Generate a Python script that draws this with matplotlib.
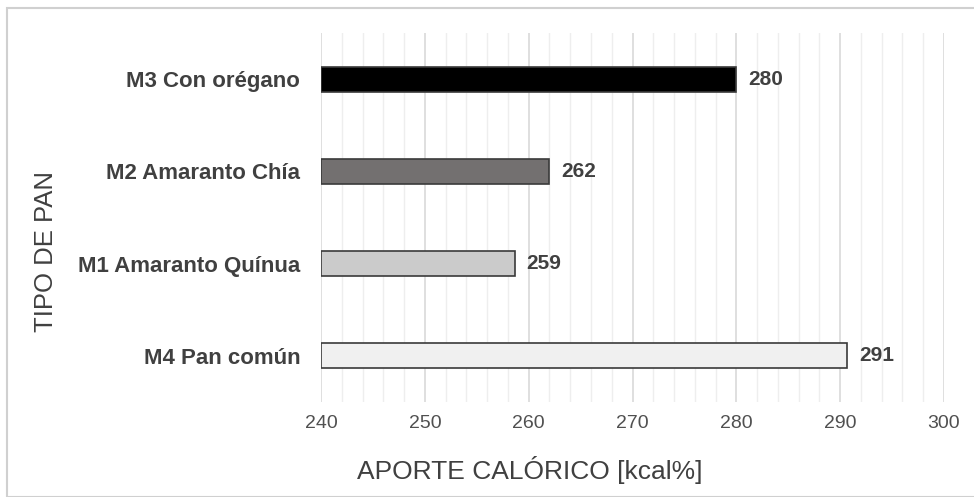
import matplotlib
matplotlib.use("Agg")
import matplotlib.pyplot as plt
from matplotlib.patches import Rectangle

plt.rcParams['font.family'] = ['Liberation Sans', 'DejaVu Sans']

# datos
tipos = ['M4 Pan común', 'M1 Amaranto Quínua', 'M2 Amaranto Chía', 'M3 Con orégano']
aporte = [290.7, 258.7, 262.0, 280.0]
etiquetas = ['291', '259', '262', '280']
colores = ['#f0f0f0', '#cbcbcb', '#737070', '#000000']

fig = plt.figure(figsize=(9.74, 4.97), dpi=100)
ax = fig.add_axes([321/974, 1 - 402/497, (944-321)/974, (402-33)/497])

pos = list(range(len(tipos)))
ax.barh(pos, [v - 240 for v in aporte], left=240, height=0.27,
        color=colores, edgecolor='#3a3a3a', linewidth=1.2, zorder=3)

for p, v, t in zip(pos, aporte, etiquetas):
    ax.text(v + 1.1, p, t, va='center', ha='left', fontsize=15,
            fontweight='bold', color='#404040')

ax.set_xlim(240, 300)
ax.set_ylim(-0.5, 3.5)
ax.set_xticks(range(240, 301, 10))
ax.set_xticks(range(240, 301, 2), minor=True)
ax.grid(axis='x', which='major', color='#dcdcdc', linewidth=1.3, zorder=0)
ax.grid(axis='x', which='minor', color='#eeeeee', linewidth=1.0, zorder=0)
ax.set_yticks(pos)
ax.set_yticklabels(tipos, fontsize=16, fontweight='bold', color='#404040')
ax.tick_params(axis='both', which='both', length=0)
ax.tick_params(axis='y', pad=15)
ax.tick_params(axis='x', labelsize=14, colors='#505050', pad=9)
for s in ax.spines.values():
    s.set_visible(False)

# titulos de ejes
fig.text(530/974, 1 - 470/497, 'APORTE CALÓRICO [kcal%]', fontsize=19,
         color='#404040', ha='center', va='center')
fig.text(46/974, 1 - 251/497, 'TIPO DE PAN', fontsize=18.5, rotation=90,
         color='#404040', ha='center', va='center')

# marco exterior
fig.patches.append(Rectangle((7/974, 0), 1, 1 - 8/497, transform=fig.transFigure,
                             fill=False, edgecolor='#d0d0d0', linewidth=1.5))

fig.savefig('out.png', dpi=100)
